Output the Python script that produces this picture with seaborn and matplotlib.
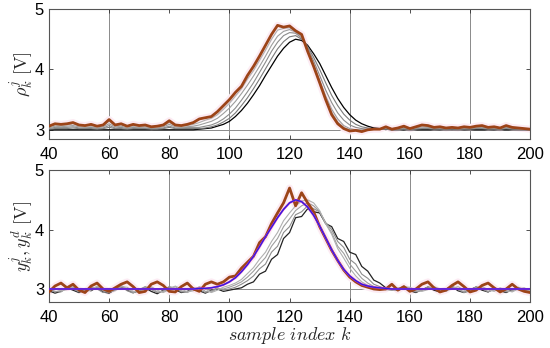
import numpy as np
import matplotlib
matplotlib.use("Agg")
import matplotlib.pyplot as plt
import seaborn as sns

# sample index k (every 2nd sample)
k = np.arange(40, 201, 2)

# ---- top panel: input rho_k^j over iterations ----
rho_first = ([3.0] * 25 +
             [3.01, 3.02, 3.03, 3.06, 3.09, 3.14, 3.22, 3.32, 3.44, 3.58, 3.73, 3.90, 4.06, 4.22, 4.35, 4.45,
              4.50, 4.48, 4.40, 4.26, 4.10, 3.90, 3.70, 3.52, 3.37, 3.25, 3.16, 3.10, 3.06, 3.03, 3.02, 3.01] +
             [3.0] * 24)
rho_g1 = ([3.01, 3.02, 3.02, 3.02, 3.03, 3.02, 3.02, 3.02, 3.01, 3.02, 3.04, 3.02, 3.02, 3.01, 3.02, 3.02, 3.02,
           3.01, 3.01, 3.02, 3.04, 3.02, 3.02, 3.02, 3.02] +
          [3.02, 3.03, 3.05, 3.08, 3.13, 3.19, 3.28, 3.40, 3.53, 3.68, 3.84, 4.01, 4.18, 4.34, 4.46, 4.54,
           4.56, 4.50, 4.38, 4.20, 4.00, 3.78, 3.57, 3.40, 3.26, 3.16, 3.09, 3.05, 3.03, 3.02, 3.01, 3.01] +
          [3.00, 3.01, 3.01, 3.01, 3.01, 3.02, 3.02, 3.01, 3.01, 3.01, 3.01, 3.01, 3.01, 3.01, 3.02, 3.02,
           3.01, 3.01, 3.01, 3.02, 3.01, 3.01, 3.01, 3.00])
rho_g2 = ([3.02, 3.04, 3.04, 3.04, 3.05, 3.03, 3.03, 3.04, 3.02, 3.03, 3.07, 3.03, 3.04, 3.02, 3.04, 3.03, 3.03,
           3.02, 3.02, 3.03, 3.06, 3.03, 3.03, 3.04, 3.04] +
          [3.04, 3.06, 3.08, 3.12, 3.18, 3.26, 3.36, 3.49, 3.63, 3.78, 3.95, 4.12, 4.30, 4.45, 4.56, 4.61,
           4.60, 4.52, 4.36, 4.14, 3.90, 3.66, 3.45, 3.28, 3.16, 3.08, 3.04, 3.02, 3.01, 3.01, 3.01, 3.02] +
          [3.01, 3.01, 3.02, 3.01, 3.02, 3.03, 3.03, 3.02, 3.02, 3.01, 3.02, 3.01, 3.02, 3.02, 3.03, 3.03,
           3.02, 3.02, 3.01, 3.03, 3.02, 3.01, 3.01, 3.00])
rho_g3 = ([3.03, 3.06, 3.05, 3.06, 3.07, 3.05, 3.04, 3.05, 3.03, 3.05, 3.10, 3.05, 3.06, 3.03, 3.05, 3.04, 3.05,
           3.03, 3.03, 3.05, 3.09, 3.05, 3.04, 3.05, 3.06] +
          [3.08, 3.11, 3.14, 3.19, 3.27, 3.36, 3.47, 3.60, 3.74, 3.89, 4.05, 4.22, 4.40, 4.55, 4.63, 4.66,
           4.62, 4.54, 4.34, 4.08, 3.82, 3.56, 3.34, 3.18, 3.07, 3.02, 3.00, 3.00, 3.01, 3.01, 3.02, 3.03] +
          [3.02, 3.02, 3.04, 3.01, 3.03, 3.05, 3.04, 3.03, 3.03, 3.02, 3.03, 3.02, 3.03, 3.03, 3.04, 3.04,
           3.03, 3.03, 3.02, 3.04, 3.03, 3.02, 3.01, 3.01])
rho_g4 = ([3.05, 3.08, 3.07, 3.08, 3.10, 3.06, 3.06, 3.07, 3.05, 3.06, 3.14, 3.06, 3.08, 3.05, 3.07, 3.06, 3.06,
           3.04, 3.05, 3.06, 3.12, 3.06, 3.06, 3.07, 3.09] +
          [3.12, 3.16, 3.19, 3.25, 3.34, 3.44, 3.56, 3.68, 3.84, 3.98, 4.15, 4.32, 4.50, 4.65, 4.68, 4.69,
           4.63, 4.56, 4.32, 4.06, 3.80, 3.53, 3.29, 3.13, 3.04, 3.00, 2.99, 2.99, 3.00, 3.01, 3.02, 3.04] +
          [3.02, 3.03, 3.05, 3.02, 3.04, 3.07, 3.06, 3.04, 3.04, 3.03, 3.04, 3.03, 3.04, 3.04, 3.05, 3.06,
           3.04, 3.04, 3.03, 3.06, 3.04, 3.03, 3.02, 3.01])
rho_last = ([3.06, 3.10, 3.09, 3.10, 3.12, 3.08, 3.07, 3.09, 3.06, 3.08, 3.17, 3.08, 3.10, 3.06, 3.09, 3.07, 3.08,
             3.05, 3.06, 3.08, 3.15, 3.08, 3.07, 3.09, 3.12] +
            [3.18, 3.20, 3.22, 3.30, 3.40, 3.50, 3.62, 3.72, 3.90, 4.05, 4.22, 4.40, 4.58, 4.73, 4.70, 4.72,
             4.64, 4.58, 4.30, 4.05, 3.78, 3.50, 3.25, 3.10, 3.02, 2.98, 2.99, 2.97, 3.00, 3.01, 3.01, 3.05] +
            [3.01, 3.03, 3.06, 3.02, 3.05, 3.08, 3.07, 3.04, 3.05, 3.03, 3.04, 3.03, 3.05, 3.04, 3.06, 3.07,
             3.04, 3.05, 3.03, 3.07, 3.04, 3.03, 3.02, 3.01])

# ---- bottom panel: outputs y_k^j and reference y_k^d ----
y_ref = ([3.0] * 25 +
         [3.01, 3.01, 3.02, 3.04, 3.07, 3.12, 3.19, 3.29, 3.41, 3.55, 3.71, 3.88, 4.04, 4.20, 4.34, 4.45,
          4.50, 4.47, 4.38, 4.24, 4.06, 3.86, 3.66, 3.48, 3.33, 3.22, 3.14, 3.08, 3.05, 3.03, 3.02, 3.01] +
         [3.0] * 24)
y_first = ([2.97, 2.93, 2.96, 3.02, 2.98, 2.94, 3.00, 2.97, 3.03, 2.95, 2.93, 2.99, 3.04, 2.98, 2.94, 2.97,
            3.02, 2.96, 2.92, 2.98, 3.03, 2.99, 2.94, 2.96, 3.01, 2.97, 2.93, 2.98, 3.00, 2.96] +
           [2.98, 3.00, 3.02, 3.08, 3.12, 3.25, 3.30, 3.50, 3.58, 3.85, 3.95, 4.20, 4.22, 4.35, 4.30, 4.28,
            4.10, 4.05, 3.85, 3.80, 3.62, 3.58, 3.38, 3.30, 3.15, 3.10, 3.02, 3.00, 2.98] +
           [3.02, 2.97, 2.94, 2.99, 3.03, 2.98, 2.95, 3.00, 3.04, 2.97, 2.94, 2.99, 3.03, 2.98, 2.95, 3.01,
            2.97, 2.94, 2.99, 3.02, 2.96, 2.95])
y_g1 = ([2.99, 2.95, 2.97, 3.04, 3.00, 2.95, 2.98, 3.03, 3.00, 2.94, 2.96, 3.02, 3.05, 2.97, 2.93, 2.99,
         3.04, 2.99, 2.94, 2.97, 3.04, 3.01, 2.95, 2.95, 3.02, 2.99, 2.94, 2.97, 3.02, 2.98] +
        [3.00, 3.03, 3.08, 3.14, 3.22, 3.34, 3.42, 3.62, 3.72, 3.95, 4.05, 4.25, 4.30, 4.40, 4.35, 4.30,
         4.12, 4.00, 3.80, 3.70, 3.50, 3.42, 3.25, 3.18, 3.08, 3.04, 3.00, 2.98, 2.99] +
        [3.04, 2.99, 2.95, 2.98, 3.04, 3.01, 2.96, 2.98, 3.05, 2.99, 2.94, 2.97, 3.04, 3.00, 2.95, 3.00,
         2.99, 2.95, 2.97, 3.03, 2.98, 2.96])
y_g2 = ([3.01, 2.96, 2.95, 3.02, 3.03, 2.97, 2.96, 3.01, 3.03, 2.97, 2.94, 3.00, 3.06, 3.00, 2.94, 2.97,
         3.03, 3.02, 2.95, 2.95, 3.02, 3.04, 2.97, 2.94, 3.00, 3.03, 2.96, 2.95, 3.01, 3.00] +
        [3.03, 3.07, 3.12, 3.20, 3.30, 3.42, 3.53, 3.72, 3.85, 4.05, 4.18, 4.32, 4.40, 4.45, 4.40, 4.30,
         4.10, 3.95, 3.72, 3.60, 3.42, 3.30, 3.18, 3.10, 3.04, 3.01, 2.99, 2.98, 3.00] +
        [3.05, 3.01, 2.96, 2.97, 3.02, 3.03, 2.97, 2.97, 3.04, 3.01, 2.95, 2.96, 3.03, 3.02, 2.96, 2.98,
         3.01, 2.96, 2.96, 3.02, 3.00, 2.97])
y_g3 = ([2.98, 3.00, 2.97, 2.99, 3.04, 3.00, 2.95, 2.98, 3.05, 3.00, 2.95, 2.97, 3.04, 3.03, 2.96, 2.95,
         3.01, 3.04, 2.98, 2.94, 2.99, 3.05, 3.00, 2.95, 2.97, 3.04, 3.00, 2.94, 2.98, 3.03] +
        [3.06, 3.10, 3.16, 3.26, 3.36, 3.50, 3.62, 3.80, 3.95, 4.15, 4.28, 4.40, 4.48, 4.50, 4.45, 4.32,
         4.10, 3.92, 3.68, 3.52, 3.35, 3.22, 3.12, 3.06, 3.02, 3.00, 2.99, 3.00, 3.02] +
        [3.03, 3.03, 2.98, 2.96, 2.99, 3.04, 3.00, 2.96, 3.01, 3.04, 2.98, 2.95, 3.00, 3.04, 2.99, 2.96,
         3.02, 2.98, 2.95, 3.00, 3.02, 2.97])
y_last = ([2.95, 3.05, 3.10, 3.02, 3.08, 2.98, 2.94, 3.05, 3.10, 3.00, 2.96, 3.02, 3.08, 3.12, 3.04, 2.94,
           2.96, 3.08, 3.12, 3.06, 2.96, 2.95, 3.04, 3.10, 3.00] +
          [2.96, 3.08, 3.12, 3.08, 3.12, 3.20, 3.22, 3.35, 3.45, 3.55, 3.78, 3.88, 4.10, 4.28, 4.45, 4.70,
           4.40, 4.62, 4.45, 4.30, 4.05, 3.85, 3.65, 3.48, 3.32, 3.20, 3.12, 3.06, 3.03, 3.00, 2.99, 3.00] +
          [3.08, 2.98, 3.04, 2.96, 3.00, 3.08, 3.12, 3.02, 2.95, 2.98, 3.06, 3.12, 3.04, 2.95, 2.98, 3.06,
           3.10, 3.02, 2.95, 3.00, 3.08, 3.00, 2.96, 2.94])

x_ticks = [40, 60, 80, 100, 120, 140, 160, 180, 200]
y_ticks = [3, 4, 5]
top_vlines = [60, 100, 140, 180]
bottom_vlines = [80, 140, 160]

sns.set_style("ticks")
plt.rcParams['font.family'] = ['Liberation Sans', 'DejaVu Sans']
plt.rcParams['mathtext.fontset'] = 'cm'

fig = plt.figure(figsize=(5.5, 3.48), dpi=100)
ax1 = fig.add_axes([0.089, 0.601, 0.875, 0.373])
ax2 = fig.add_axes([0.089, 0.132, 0.875, 0.379])

grays = ['#7a7a7a', '#8c8c8c', '#9e9e9e', '#b0b0b0']
last_col = '#9c4418'
halo_col = '#fcebf3'


def style_axes(ax, vlines, ylim):
    for v in vlines:
        ax.axvline(v, color='#8a8a8a', lw=0.7, zorder=0)
    ax.axhline(3, color='#8a8a8a', lw=0.7, zorder=0)
    ax.set_xlim(40, 200)
    ax.set_ylim(*ylim)
    ax.set_xticks(x_ticks)
    ax.set_yticks(y_ticks)
    ax.tick_params(direction='in', top=True, right=True, labelsize=12,
                   length=3, width=0.6, colors='#333333', labelcolor='black')
    ax.tick_params(axis='x', pad=6)
    for s in ax.spines.values():
        s.set_visible(True)
        s.set_color('#555555')
        s.set_linewidth(0.8)


# top panel
sns.lineplot(x=k, y=rho_last, ax=ax1, color=halo_col, lw=5, zorder=1)
sns.lineplot(x=k, y=rho_first, ax=ax1, color='black', lw=0.9, zorder=3)
for g, col in zip([rho_g1, rho_g2, rho_g3, rho_g4], grays):
    sns.lineplot(x=k, y=g, ax=ax1, color=col, lw=0.8, zorder=3)
sns.lineplot(x=k, y=rho_last, ax=ax1, color=last_col, lw=2.0, zorder=4)
style_axes(ax1, top_vlines, (2.85, 5))
ax1.set_ylabel(r'$\rho_k^j\ [\mathrm{V}]$', fontsize=13, labelpad=0)

# bottom panel
sns.lineplot(x=k, y=y_last, ax=ax2, color=halo_col, lw=5, zorder=1)
sns.lineplot(x=k, y=y_first, ax=ax2, color='#222222', lw=0.9, zorder=3)
for g, col in zip([y_g1, y_g2, y_g3], grays[1:]):
    sns.lineplot(x=k, y=g, ax=ax2, color=col, lw=0.8, zorder=3)
sns.lineplot(x=k, y=y_last, ax=ax2, color=last_col, lw=2.0, zorder=4)
sns.lineplot(x=k, y=y_ref, ax=ax2, color='#d030c8', lw=1.5, zorder=5)
sns.lineplot(x=k, y=y_ref, ax=ax2, color='#2a20e0', lw=0.9, zorder=6)
style_axes(ax2, bottom_vlines, (2.78, 5))
ax2.set_ylabel(r'$y_k^j, y_k^d\ [\mathrm{V}]$', fontsize=13, labelpad=0)
ax2.set_xlabel(r'$sample\ index\ k$', fontsize=13, labelpad=0)

fig.savefig('out.png', dpi=100)
